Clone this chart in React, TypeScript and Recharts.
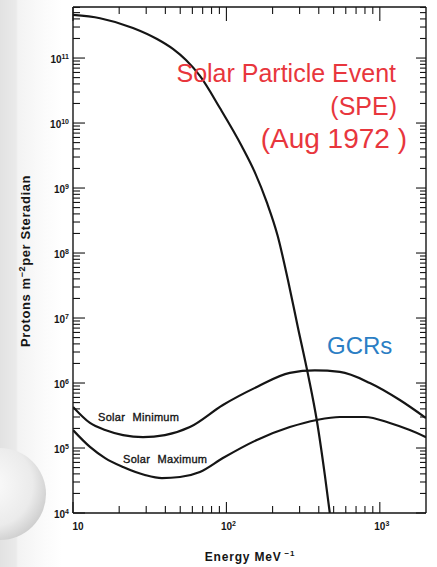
import React from 'react';
import { LineChart, Line, XAxis, YAxis } from 'recharts';

// ---- data (energy in MeV, flux in protons m^-2 per steradian) ----
const speEnergy = [10, 15, 24.6, 35.3, 44.8, 54.5, 67.2, 90.7, 126, 153, 184, 216, 252, 292, 340, 389, 438, 472];
const speFlux = [4.6e11, 4.1e11, 2.9e11, 1.96e11, 1.38e11, 9.3e10, 5.3e10, 1.7e10, 4.4e9, 1.76e9, 5.9e8, 1.83e8, 3.8e7, 7.3e6, 1.37e6, 2.6e5, 3.85e4, 1.0e4];

const solarMinEnergy = [10, 12.9, 16.2, 21.2, 28.6, 39.7, 57.8, 94.9, 158, 259, 377, 549, 861, 1350, 2000];
const solarMinFlux = [4.28e5, 2.43e5, 1.89e5, 1.58e5, 1.47e5, 1.58e5, 2.1e5, 4.59e5, 8.7e5, 1.43e6, 1.56e6, 1.48e6, 1.0e6, 5.47e5, 2.89e5];

const solarMaxEnergy = [10, 12.9, 16.2, 21.2, 29.4, 38.0, 49.8, 67.2, 94.9, 158, 259, 389, 549, 799, 1162, 1568, 2000];
const solarMaxFlux = [1.89e5, 1.04e5, 7.0e4, 5.1e4, 3.85e4, 3.45e4, 3.58e4, 4.28e4, 7.0e4, 1.33e5, 2.1e5, 2.7e5, 3.0e5, 3.0e5, 2.43e5, 1.89e5, 1.47e5];

// ---- axes ----
const xDomain = [10, 2000];
const yDomain = [1e4, 6.1e11];
const xMajorTicks = [10, 100, 1000];
const xTickExponents = ['', '2', '3'];
const xMinorTicks = [20, 30, 40, 50, 60, 70, 80, 90, 200, 300, 400, 500, 600, 700, 800, 900];
const yMajorTicks = [1e4, 1e5, 1e6, 1e7, 1e8, 1e9, 1e10, 1e11];
const yTickExponents = ['4', '5', '6', '7', '8', '9', '10', '11'];
const minorMultipliers = [2, 3, 4, 5, 6, 7, 8, 9];

const labels = {
  spe1: 'Solar Particle Event',
  spe2: '(SPE)',
  spe3: '(Aug 1972 )',
  gcr: 'GCRs',
  min: 'Solar Minimum',
  max: 'Solar Maximum',
  yTitle: 'Protons m',
  yTitleSup: '\u22122',
  yTitleRest: 'per Steradian',
  xTitle: 'Energy MeV',
  xTitleSup: '\u22121',
};

const toRows = (xs: number[], ys: number[]) => xs.map((e, i) => ({ e, f: ys[i] }));
const speData = toRows(speEnergy, speFlux);
const minData = toRows(solarMinEnergy, solarMinFlux);
const maxData = toRows(solarMaxEnergy, solarMaxFlux);

const yMinorTicks: number[] = [];
yMajorTicks.forEach((d) => minorMultipliers.forEach((m) => { if (m * d <= yDomain[1]) yMinorTicks.push(m * d); }));
const xTicks = [...xMajorTicks, ...xMinorTicks].sort((a, b) => a - b);
const yTicks = [...yMajorTicks, ...yMinorTicks].sort((a, b) => a - b);

const INK = '#151515';
const FONT = '"Liberation Sans", Arial, Helvetica, sans-serif';

const majorIndex = (arr: number[], v: number) => arr.findIndex((a) => Math.abs(a - v) / a < 1e-9);

// every tick draws its own inward mark plus, for majors, its label
const renderBottomTick = (props: any) => {
  const { x, y, payload } = props;
  const idx = majorIndex(xMajorTicks, payload.value);
  const len = idx >= 0 ? 11 : 7;
  const exp = idx >= 0 ? xTickExponents[idx] : '';
  return (
    <g>
      <rect x={x - 0.55} y={y - len} width={1.1} height={len} fill={INK} />
      {idx >= 0 && (
        <text x={x + (idx === 0 ? 5 : 2)} y={y + 17} textAnchor="middle" fontFamily={FONT} fontWeight="bold" fontSize={10} fill={INK}>
          10{exp && <tspan dy={-4} fontSize={7}>{exp}</tspan>}
        </text>
      )}
    </g>
  );
};

const renderTopTick = (props: any) => {
  const { x, y, payload } = props;
  const len = majorIndex(xMajorTicks, payload.value) >= 0 ? 14 : 7;
  return <rect x={x - 0.55} y={y} width={1.1} height={len} fill={INK} />;
};

const renderLeftTick = (props: any) => {
  const { x, y, payload } = props;
  const idx = majorIndex(yMajorTicks, payload.value);
  const len = idx >= 0 ? 12 : 7;
  return (
    <g>
      <rect x={x} y={y - 0.55} width={len} height={1.1} fill={INK} />
      {idx >= 0 && (
        <text x={x - 4} y={y + 4.5} textAnchor="end" fontFamily={FONT} fontWeight="bold" fontSize={10} fill={INK}>
          10<tspan dy={-4} fontSize={7}>{yTickExponents[idx]}</tspan>
        </text>
      )}
    </g>
  );
};

const renderRightTick = (props: any) => {
  const { x, y, payload } = props;
  const len = majorIndex(yMajorTicks, payload.value) >= 0 ? 10 : 6;
  return <rect x={x - len} y={y - 0.55} width={len} height={1.1} fill={INK} />;
};

const axisLine = { stroke: INK, strokeWidth: 1.4 };

export default function App() {
  return (
    <div
      style={{
        position: 'absolute',
        left: 0,
        top: 0,
        width: 437,
        height: 567,
        overflow: 'hidden',
        background: 'linear-gradient(to right, #e2e2e2 0px, #eaeaea 16px, #f3f3f3 18px, #fbfbfb 45px, #ffffff 62px)',
      }}
    >
      <svg width={437} height={567} style={{ position: 'absolute', left: 0, top: 0 }}>
        <defs>
          <radialGradient id="orb" cx="40%" cy="40%" r="65%">
            <stop offset="0" stopColor="#fbfbfb" />
            <stop offset="0.7" stopColor="#ebebeb" />
            <stop offset="1" stopColor="#cdcdcd" />
          </radialGradient>
        </defs>
        <circle cx={0} cy={494} r={46} fill="url(#orb)" />
      </svg>
      <div style={{ position: 'absolute', left: 0, top: 0 }}>
        <LineChart width={437} height={567} margin={{ top: 6, right: 10, bottom: 24, left: 13 }}>
          <XAxis
            xAxisId="b"
            dataKey="e"
            type="number"
            scale="log"
            domain={xDomain}
            allowDataOverflow
            ticks={xTicks}
            interval={0}
            height={30}
            tickSize={0}
            tickMargin={0}
            tickLine={false}
            axisLine={axisLine}
            tick={renderBottomTick}
          />
          <XAxis
            xAxisId="t"
            orientation="top"
            dataKey="e"
            type="number"
            scale="log"
            domain={xDomain}
            allowDataOverflow
            ticks={xTicks}
            interval={0}
            height={1}
            tickSize={0}
            tickMargin={0}
            tickLine={false}
            axisLine={axisLine}
            tick={renderTopTick}
          />
          <YAxis
            yAxisId="l"
            dataKey="f"
            type="number"
            scale="log"
            domain={yDomain}
            allowDataOverflow
            ticks={yTicks}
            interval={0}
            width={60}
            tickSize={0}
            tickMargin={0}
            tickLine={false}
            axisLine={axisLine}
            tick={renderLeftTick}
          />
          <YAxis
            yAxisId="r"
            orientation="right"
            dataKey="f"
            type="number"
            scale="log"
            domain={yDomain}
            allowDataOverflow
            ticks={yTicks}
            interval={0}
            width={1}
            tickSize={0}
            tickMargin={0}
            tickLine={false}
            axisLine={axisLine}
            tick={renderRightTick}
          />
          <Line xAxisId="b" yAxisId="l" data={speData} dataKey="f" type="monotone" stroke={INK} strokeWidth={2.2} dot={false} isAnimationActive={false} />
          <Line xAxisId="b" yAxisId="l" data={minData} dataKey="f" type="monotone" stroke={INK} strokeWidth={2.2} dot={false} isAnimationActive={false} />
          <Line xAxisId="b" yAxisId="l" data={maxData} dataKey="f" type="monotone" stroke={INK} strokeWidth={2.2} dot={false} isAnimationActive={false} />
        </LineChart>
      </div>
      <svg width={437} height={567} style={{ position: 'absolute', left: 0, top: 0, pointerEvents: 'none' }}>
        <g fontFamily={FONT} fill="#e8363d">
          <text x={396} y={82} textAnchor="end" fontSize={25}>{labels.spe1}</text>
          <text x={397} y={115} textAnchor="end" fontSize={25}>{labels.spe2}</text>
          <text x={407} y={148} textAnchor="end" fontSize={28}>{labels.spe3}</text>
        </g>
        <text x={327} y={354} fontFamily={FONT} fontSize={24} fill="#2b7ec4">{labels.gcr}</text>
        <g fontFamily={FONT} fontSize={11} fill={INK} stroke={INK} strokeWidth={0.35} letterSpacing={0.3} wordSpacing={4}>
          <text x={98} y={421}>{labels.min}</text>
          <text x={123} y={463}>{labels.max}</text>
        </g>
        <text
          transform="translate(30 261) rotate(-90)"
          textAnchor="middle"
          fontFamily={FONT}
          fontWeight="bold"
          fontSize={13}
          letterSpacing={0.6}
          fill={INK}
        >
          {labels.yTitle}
          <tspan dy={-5} fontSize={9}>{labels.yTitleSup}</tspan>
          <tspan dy={5}>{labels.yTitleRest}</tspan>
        </text>
        <text x={250} y={561} textAnchor="middle" fontFamily={FONT} fontWeight="bold" fontSize={12} letterSpacing={0.8} fill={INK}>
          {labels.xTitle}
          <tspan dx={3} dy={-5} fontSize={8}>{labels.xTitleSup}</tspan>
        </text>
      </svg>
    </div>
  );
}
